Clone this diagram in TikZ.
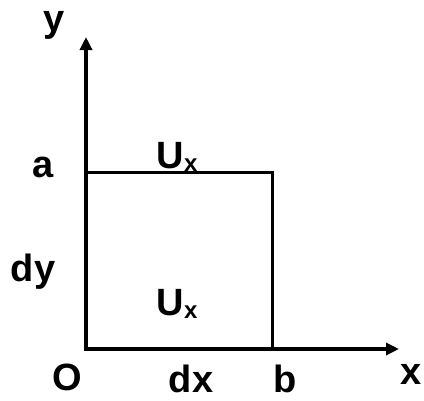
\documentclass[tikz,border=0pt]{standalone}
\usepackage{fontspec}
\setmainfont{Liberation Sans}
\usetikzlibrary{arrows.meta}
\newcommand{\subx}{\raisebox{-3pt}{\fontsize{24}{26}\selectfont x}}
\begin{document}
\begin{tikzpicture}[x=1pt,y=-1pt,
  axis/.style={line width=4pt,-{Triangle[length=13pt,width=12pt]}},
  edge/.style={line width=3pt},
  lbl/.style={font=\fontsize{38}{42}\selectfont\bfseries,inner sep=0pt,anchor=base}]
\useasboundingbox (0,0) rectangle (424,400);
\coordinate (O) at (86,349);
\coordinate (ytip) at (86,37);
\coordinate (xtip) at (399,349);
\coordinate (A) at (86,172);
\coordinate (C) at (272,172);
\coordinate (B) at (272,349);
\draw[edge] (A) -- (C) -- (B);
\draw[axis] ([yshift=2pt]O) -- (ytip);
\draw[axis] ([xshift=-2pt]O) -- (xtip);
\node[lbl] (ly) at (54,31) {y};
\node[lbl] (la) at (43,177) {a};
\node[lbl] (ldy) at (33,281) {dy};
\node[lbl] (lO) at (67,390) {O};
\node[lbl] (ldx) at (191,392) {dx};
\node[lbl] (lb) at (285,392) {b};
\node[lbl] (lx) at (411,384) {x};
\node[lbl] (u1) at (177,168) {U\subx};
\node[lbl] (u2) at (177,315) {U\subx};
\end{tikzpicture}
\end{document}
